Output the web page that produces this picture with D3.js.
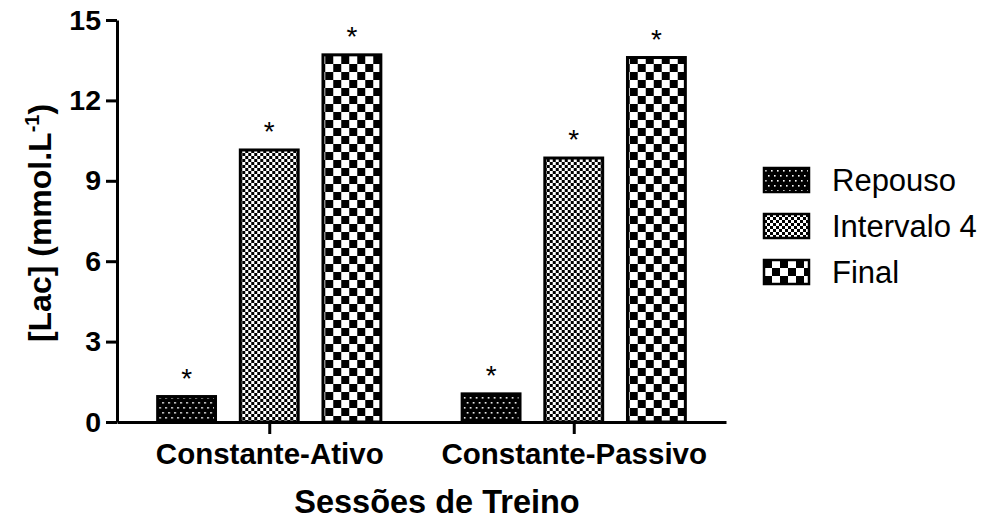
<!DOCTYPE html>
<html>
<head>
<meta charset="utf-8">
<script src="https://cdn.jsdelivr.net/npm/d3@7"></script>
<style>
  html, body { margin: 0; padding: 0; background: #fff; }
  svg { display: block; font-family: "Liberation Sans", Arial, sans-serif; }
</style>
</head>
<body>
<svg id="chart" width="989" height="522"></svg>
<script>
// Blood lactate per training session and sampling moment
const sessions = ["Constante-Ativo", "Constante-Passivo"];
const moments = ["Repouso", "Intervalo 4", "Final"];
const repouso = [0.95, 1.05];
const intervalo4 = [10.15, 9.85];
const final = [13.7, 13.6];
const significant = [[true, true, true], [true, true, true]];
const yTicks = [0, 3, 6, 9, 12, 15];

const seriesValues = [repouso, intervalo4, final];
const rows = sessions.map((s, i) => ({
  session: s,
  bars: moments.map((m, j) => ({ moment: m, value: seriesValues[j][i], sig: significant[i][j] }))
}));

const svg = d3.select("#chart");
const patternId = { "Repouso": "pat-dots", "Intervalo 4": "pat-fine", "Final": "pat-coarse" };

// Fill patterns
const defs = svg.append("defs");
const dots = defs.append("pattern").attr("id", "pat-dots")
  .attr("patternUnits", "userSpaceOnUse").attr("width", 6).attr("height", 10);
dots.append("rect").attr("width", 6).attr("height", 10).attr("fill", "#000");
dots.append("rect").attr("x", 1).attr("y", 2).attr("width", 1.6).attr("height", 1.6).attr("fill", "#fff");
dots.append("rect").attr("x", 4).attr("y", 7).attr("width", 1.6).attr("height", 1.6).attr("fill", "#fff");

const fine = defs.append("pattern").attr("id", "pat-fine")
  .attr("patternUnits", "userSpaceOnUse").attr("width", 6).attr("height", 6);
fine.append("rect").attr("width", 6).attr("height", 6).attr("fill", "#fff");
fine.append("rect").attr("width", 3).attr("height", 3).attr("fill", "#000");
fine.append("rect").attr("x", 3).attr("y", 3).attr("width", 3).attr("height", 3).attr("fill", "#000");

const coarse = defs.append("pattern").attr("id", "pat-coarse")
  .attr("patternUnits", "userSpaceOnUse").attr("width", 16).attr("height", 16);
coarse.append("rect").attr("width", 16).attr("height", 16).attr("fill", "#fff");
coarse.append("rect").attr("width", 8).attr("height", 8).attr("fill", "#000");
coarse.append("rect").attr("x", 8).attr("y", 8).attr("width", 8).attr("height", 8).attr("fill", "#000");

// Scales
const y = d3.scaleLinear().domain([0, 15]).range([422, 20]);
const x0 = d3.scalePoint().domain(sessions).range([117, 726]).padding(0.5);
const x1 = d3.scaleBand().domain(moments).range([-124, 124]).paddingInner(0.3).paddingOuter(0.15);

const fontFamily = "'Liberation Sans', Arial, sans-serif";

// Y axis
const yAxis = svg.append("g").attr("transform", "translate(117,0)")
  .call(d3.axisLeft(y).tickValues(yTicks).tickSize(11).tickPadding(5).tickSizeOuter(0));
yAxis.select(".domain").attr("stroke", "#000").attr("stroke-width", 3);
yAxis.selectAll(".tick line").attr("stroke", "#000").attr("stroke-width", 3);
yAxis.selectAll(".tick text").attr("fill", "#000")
  .style("font-size", "28.5px").style("font-weight", "bold")
  .style("font-family", fontFamily);

// Bars
const groups = svg.append("g").selectAll("g").data(rows).join("g")
  .attr("transform", d => `translate(${x0(d.session)},0)`);

groups.selectAll("rect").data(d => d.bars).join("rect")
  .attr("x", d => x1(d.moment))
  .attr("y", d => y(d.value))
  .attr("width", x1.bandwidth())
  .attr("height", d => y(0) - y(d.value))
  .attr("fill", d => `url(#${patternId[d.moment]})`)
  .attr("stroke", "#000").attr("stroke-width", 3);

groups.selectAll("text.sig").data(d => d.bars.filter(b => b.sig)).join("text")
  .attr("class", "sig")
  .attr("x", d => x1(d.moment) + x1.bandwidth() / 2)
  .attr("y", d => y(d.value) - 9)
  .attr("text-anchor", "middle")
  .style("font-size", "28px")
  .attr("fill", "#000")
  .text("*");

// X axis
const xAxis = svg.append("g").attr("transform", `translate(0,${y(0)})`)
  .call(d3.axisBottom(x0).tickSize(12).tickPadding(9).tickSizeOuter(0));
xAxis.select(".domain").attr("stroke", "#000").attr("stroke-width", 3);
xAxis.selectAll(".tick line").attr("stroke", "#000").attr("stroke-width", 3);
xAxis.selectAll(".tick text").attr("fill", "#000")
  .style("font-size", "29.5px").style("font-weight", "bold")
  .style("font-family", fontFamily);

// Axis titles
svg.append("text")
  .attr("transform", "translate(51,223) rotate(-90)")
  .attr("text-anchor", "middle")
  .style("font-size", "32px").style("font-weight", "bold")
  .attr("fill", "#000")
  .call(t => {
    t.append("tspan").text("[Lac] (mmol.L");
    t.append("tspan").attr("dy", -12).style("font-size", "20px").text("-1");
    t.append("tspan").attr("dy", 12).text(")");
  });

svg.append("text")
  .attr("x", 437).attr("y", 513)
  .attr("text-anchor", "middle")
  .style("font-size", "32.5px").style("font-weight", "bold")
  .attr("fill", "#000")
  .text("Sessões de Treino");

// Legend
const legend = svg.append("g").attr("transform", "translate(764,168)");
const items = legend.selectAll("g").data(moments).join("g")
  .attr("transform", (d, i) => `translate(0,${i * 46})`);
items.append("rect")
  .attr("width", 45).attr("height", 24)
  .attr("fill", d => `url(#${patternId[d]})`)
  .attr("stroke", "#000").attr("stroke-width", 2.5);
items.append("text")
  .attr("x", 68).attr("y", 12).attr("dy", "0.36em")
  .style("font-size", "31px")
  .attr("fill", "#000")
  .text(d => d);
</script>
</body>
</html>
